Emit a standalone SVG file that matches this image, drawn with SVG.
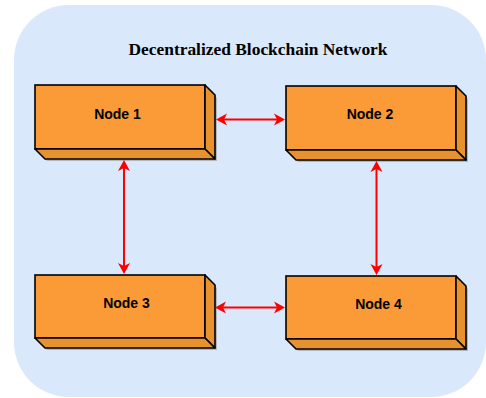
<svg xmlns="http://www.w3.org/2000/svg" width="486" height="398" viewBox="0 0 486 398">
  <style>
    .front { fill: #FA9B38; stroke: #000; stroke-width: 1.6; }
    .face { fill: #E8912F; stroke: #000; stroke-width: 1.6; stroke-linejoin: round; }
    .shadow { fill: #7a7a7a; opacity: 0.45; }
    .label { font-family: "Liberation Sans", Arial, sans-serif; font-weight: bold; font-size: 14px; fill: #000; text-anchor: middle; }
    .title { font-family: "Liberation Serif", "Times New Roman", serif; font-weight: bold; font-size: 17px; fill: #000; text-anchor: middle; }
    .conn { stroke: #FF0000; stroke-width: 2; fill: none; marker-start: url(#arr); marker-end: url(#arr); }
  </style>
  <defs>
    <marker id="arr" markerUnits="userSpaceOnUse" markerWidth="14" markerHeight="14" viewBox="-4 -7 14 14" refX="0" refY="0" orient="auto-start-reverse">
      <path d="M8,0 L-3,-6 L0,0 L-3,6 Z" fill="#FF0000"/>
    </marker>
  </defs>

  <g id="background">
    <rect x="14" y="5" width="472" height="392" rx="55" ry="55" fill="#DAE8FC"/>
  </g>

  <g id="title">
    <text class="title" x="258" y="55" textLength="259" lengthAdjust="spacingAndGlyphs">Decentralized Blockchain Network</text>
  </g>

  <g id="node1">
    <polygon class="shadow" points="37,88 207,88 217,98 217,161 47,161 37,151"/>
    <rect class="front" x="35" y="85" width="170" height="64"/>
    <polygon class="face" points="205,85 215,95 215,159 205,149"/>
    <polygon class="face" points="35,149 205,149 215,159 45,159"/>
    <text class="label" x="117.5" y="119">Node 1</text>
  </g>

  <g id="node2">
    <polygon class="shadow" points="288,89 458,89 468,99 468,162 298,162 288,152"/>
    <rect class="front" x="286" y="86" width="170" height="64"/>
    <polygon class="face" points="456,86 466,96 466,160 456,150"/>
    <polygon class="face" points="286,150 456,150 466,160 296,160"/>
    <text class="label" x="370" y="119">Node 2</text>
  </g>

  <g id="node3">
    <polygon class="shadow" points="37,278 207,278 217,288 217,350 47,350 37,340"/>
    <rect class="front" x="35" y="275" width="170" height="63"/>
    <polygon class="face" points="205,275 215,285 215,348 205,338"/>
    <polygon class="face" points="35,338 205,338 215,348 45,348"/>
    <text class="label" x="126.5" y="308">Node 3</text>
  </g>

  <g id="node4">
    <polygon class="shadow" points="288,279 458,279 468,289 468,351 298,351 288,341"/>
    <rect class="front" x="286" y="276" width="170" height="63"/>
    <polygon class="face" points="456,276 466,286 466,349 456,339"/>
    <polygon class="face" points="286,339 456,339 466,349 296,349"/>
    <text class="label" x="378.5" y="309">Node 4</text>
  </g>

  <g id="connectors">
    <line class="conn" x1="224" y1="119.5" x2="277" y2="119.5"/>
    <line class="conn" x1="124" y1="168" x2="124" y2="266"/>
    <line class="conn" x1="376.5" y1="169" x2="376.5" y2="267"/>
    <line class="conn" x1="223" y1="307.5" x2="277" y2="307.5"/>
  </g>
</svg>
